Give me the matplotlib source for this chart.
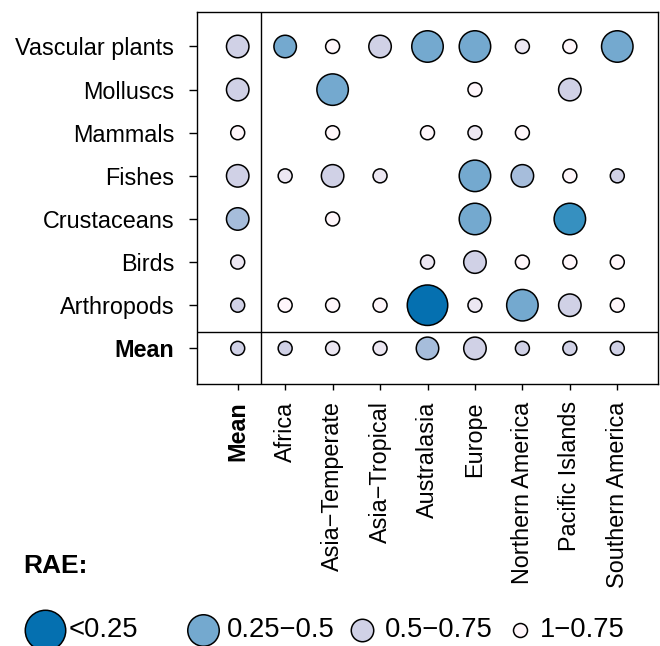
import numpy as np
import matplotlib
matplotlib.use("Agg")
import matplotlib.pyplot as plt

plt.rcParams['font.family'] = ['Liberation Sans', 'DejaVu Sans']

# --- data ---
groups = ["Vascular plants", "Molluscs", "Mammals", "Fishes",
          "Crustaceans", "Birds", "Arthropods", "Mean"]
regions = ["Mean", "Africa", "Asia\u2212Temperate", "Asia\u2212Tropical",
           "Australasia", "Europe", "Northern America", "Pacific Islands",
           "Southern America"]

# RAE per cell (None = no data), columns follow `regions`
rae_vascular = [0.60, 0.60, 0.85, 0.60, 0.40, 0.40, 0.85, 0.85, 0.40]
rae_molluscs = [0.60, None, 0.40, None, None, 0.85, None, 0.60, None]
rae_mammals = [0.85, None, 0.85, None, 0.85, 0.85, 0.85, None, None]
rae_fishes = [0.60, 0.85, 0.60, 0.85, None, 0.40, 0.60, 0.85, 0.85]
rae_crustaceans = [0.60, None, 0.85, None, None, 0.40, None, 0.40, None]
rae_birds = [0.85, None, None, None, 0.85, 0.60, 0.85, 0.85, 0.85]
rae_arthropods = [0.85, 0.85, 0.85, 0.85, 0.20, 0.85, 0.40, 0.60, 0.85]
rae_mean = [0.85, 0.85, 0.85, 0.85, 0.60, 0.60, 0.85, 0.85, 0.85]

# colour shade level (0 = lightest ... 6 = darkest)
shade_vascular = [2, 4, 0, 2, 4, 4, 1, 0, 4]
shade_molluscs = [2, None, 4, None, None, 0, None, 2, None]
shade_mammals = [0, None, 0, None, 0, 1, 0, None, None]
shade_fishes = [2, 1, 2, 1, None, 4, 3, 0, 2]
shade_crustaceans = [3, None, 0, None, None, 4, None, 5, None]
shade_birds = [1, None, None, None, 1, 2, 0, 0, 0]
shade_arthropods = [2, 0, 0, 0, 6, 1, 4, 2, 0]
shade_mean = [2, 2, 1, 1, 3, 2, 2, 2, 2]

rae_rows = [rae_vascular, rae_molluscs, rae_mammals, rae_fishes,
            rae_crustaceans, rae_birds, rae_arthropods, rae_mean]
shade_rows = [shade_vascular, shade_molluscs, shade_mammals, shade_fishes,
              shade_crustaceans, shade_birds, shade_arthropods, shade_mean]

legend_labels = ["<0.25", "0.25\u22120.5", "0.5\u22120.75", "1\u22120.75"]
legend_rae = [0.20, 0.40, 0.60, 0.85]
legend_shade = [6, 4, 2, 0]

palette = ["#fff7fb", "#ece7f2", "#d0d1e6", "#a6bddb",
           "#74a9cf", "#3690c0", "#0570b0"]

EDGE_LW = 1.1


def marker_size(r):
    # visible diameter in px for each RAE class, minus the edge line
    if r < 0.25:
        d = 42
    elif r < 0.5:
        d = 33
    elif r < 0.75:
        d = 24
    else:
        d = 15.5
    d_pt = (d - EDGE_LW * 100 / 72) * 72 / 100
    return d_pt ** 2


fig = plt.figure(figsize=(6.6, 6.46), dpi=100)
ax = fig.add_axes([197 / 660, 1 - 384 / 646, 461 / 660, 372 / 646])

ny = len(groups)
xs, ys, ss, cs = [], [], [], []
for i, (rr, sr) in enumerate(zip(rae_rows, shade_rows)):
    y = ny - i
    for j, (r, s) in enumerate(zip(rr, sr)):
        if r is None:
            continue
        xs.append(j + 1)
        ys.append(y)
        ss.append(marker_size(r))
        cs.append(palette[s])

ax.scatter(xs, ys, s=ss, c=cs, edgecolors="black", linewidths=EDGE_LW, zorder=3)

ax.set_xlim(0.142, 9.858)
ax.set_ylim(0.173, 8.80)
ax.axvline(1.5, color="black", lw=1.0)
ax.axhline(1.38, color="black", lw=1.0)
for sp in ax.spines.values():
    sp.set_linewidth(1.0)

ax.set_yticks(np.arange(ny, 0, -1))
ax.set_yticklabels(groups, fontsize=16.8)
ax.set_xticks(np.arange(1, len(regions) + 1))
ax.set_xticklabels(regions, rotation=90, fontsize=16.8, va="top")
ax.tick_params(axis="y", length=5.5, width=1.0, pad=11)
ax.tick_params(axis="x", length=4.5, width=1.0, pad=8)
ax.get_yticklabels()[-1].set_fontweight("bold")
ax.get_xticklabels()[0].set_fontweight("bold")

# --- legend drawn in pixel coordinates ---
lax = fig.add_axes([0, 0, 1, 1])
lax.set_xlim(0, 660)
lax.set_ylim(646, 0)
lax.axis("off")
lax.text(23, 573, "RAE:", fontsize=19, fontweight="bold", ha="left", va="baseline")

circle_x = [44.5, 202.5, 361.5, 520]
text_x = [69, 227, 385, 540]
for cx, tx, lab, r, s in zip(circle_x, text_x, legend_labels, legend_rae, legend_shade):
    lax.scatter([cx], [629.5], s=marker_size(r), c=palette[s], edgecolors="black",
                linewidths=EDGE_LW, clip_on=False)
    lax.text(tx, 637, lab, fontsize=19.7, ha="left", va="baseline")

fig.savefig("out.png", dpi=100)
